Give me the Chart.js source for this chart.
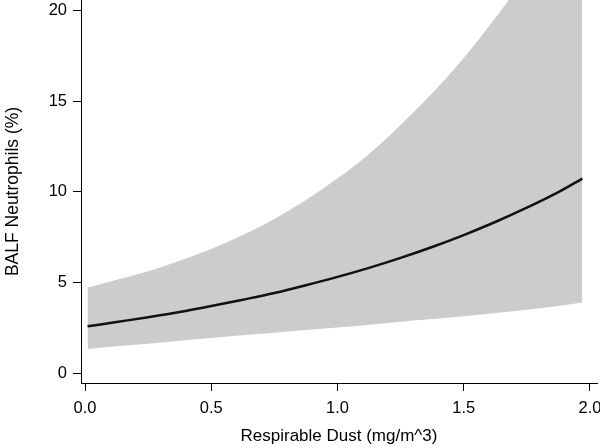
<!DOCTYPE html>
<html>
<head>
<meta charset="utf-8">
<script src="https://cdn.jsdelivr.net/npm/chart.js@4.4.1/dist/chart.umd.min.js"></script>
<style>
  html, body { margin: 0; padding: 0; background: #fff; }
  #wrap { width: 600px; height: 448px; }
</style>
</head>
<body>
<div id="wrap"><canvas id="chart" width="600" height="448"></canvas></div>
<script>
// respirable dust (mg/m^3) and fitted BALF neutrophils (%) with confidence band
const dustX     = [0.01, 0.125, 0.25, 0.375, 0.5, 0.625, 0.75, 0.875, 1.0, 1.125, 1.25, 1.375, 1.5, 1.625, 1.75, 1.875, 1.97];
const meanPct   = [2.58, 2.82, 3.08, 3.37, 3.70, 4.05, 4.42, 4.85, 5.31, 5.81, 6.36, 6.96, 7.62, 8.34, 9.13, 9.99, 10.74];
const lowerPct  = [1.33, 1.48, 1.62, 1.78, 1.93, 2.08, 2.23, 2.38, 2.52, 2.67, 2.83, 2.98, 3.14, 3.32, 3.50, 3.70, 3.89];
const upperPct  = [4.72, 5.15, 5.62, 6.20, 6.85, 7.62, 8.50, 9.55, 10.75, 12.1, 13.7, 15.45, 17.4, 19.6, 22.0, 24.5, 27.0];
const xTicks = [0, 0.5, 1.0, 1.5, 2.0];
const yTicks = [0, 5, 10, 15, 20];

function toPoints(ys) {
    let pts = [];
    for (let i = 0; i < dustX.length; i++) {
        pts.push({ x: dustX[i], y: ys[i] });
    }
    return pts;
}

function createChart() {
    const font = "'Liberation Sans', Arial, Helvetica, sans-serif";
    const config = {
        type: 'line',
        data: {
            datasets: [{
                label: 'fit',
                data: toPoints(meanPct),
                borderColor: '#111111',
                borderWidth: 2.5,
                pointRadius: 0,
                fill: false,
                cubicInterpolationMode: 'monotone',
                order: 0
            }, {
                label: 'upper',
                data: toPoints(upperPct),
                borderWidth: 0,
                borderColor: 'rgba(0,0,0,0)',
                backgroundColor: '#cccccc',
                pointRadius: 0,
                fill: '+1',
                cubicInterpolationMode: 'monotone',
                order: 1
            }, {
                label: 'lower',
                data: toPoints(lowerPct),
                borderWidth: 0,
                borderColor: 'rgba(0,0,0,0)',
                pointRadius: 0,
                fill: false,
                cubicInterpolationMode: 'monotone',
                order: 2
            }]
        },
        options: {
            responsive: false,
            animation: false,
            layout: { padding: { left: 0, right: 3, top: 0, bottom: 0 } },
            plugins: {
                legend: { display: false },
                tooltip: { enabled: false }
            },
            scales: {
                x: {
                    type: 'linear',
                    min: -0.016,
                    max: 2.028,
                    afterBuildTicks: (s) => { s.ticks = xTicks.map(v => ({ value: v })); },
                    afterFit: (s) => { s.height = 65; s.paddingLeft = 0; s.paddingRight = 0; },
                    border: { display: true, color: '#000', width: 1 },
                    grid: { drawOnChartArea: false, drawTicks: true, tickLength: 8, tickColor: '#000', tickWidth: 1 },
                    ticks: {
                        color: '#000',
                        padding: 8,
                        maxRotation: 0,
                        autoSkip: false,
                        font: { family: font, size: 16.5 },
                        callback: (v) => Number(v).toFixed(1)
                    },
                    title: {
                        display: true,
                        text: 'Respirable Dust (mg/m^3)',
                        color: '#000',
                        padding: { top: 0, bottom: 1 },
                        font: { family: font, size: 17 }
                    }
                },
                y: {
                    type: 'linear',
                    min: -0.55,
                    max: 20.6,
                    afterBuildTicks: (s) => { s.ticks = yTicks.map(v => ({ value: v })); },
                    afterFit: (s) => { s.width = 81; s.paddingTop = 0; s.paddingBottom = 0; },
                    border: { display: true, color: '#000', width: 1 },
                    grid: { drawOnChartArea: false, drawTicks: true, tickLength: 8, tickColor: '#000', tickWidth: 1 },
                    ticks: {
                        color: '#000',
                        padding: 6,
                        autoSkip: false,
                        font: { family: font, size: 16.5 }
                    },
                    title: {
                        display: true,
                        text: 'BALF Neutrophils (%)',
                        color: '#000',
                        padding: { top: 3, bottom: 0 },
                        font: { family: font, size: 17.5 }
                    }
                }
            }
        }
    };
    let canvas = document.getElementById('chart');
    let ctx = canvas.getContext("2d");
    new Chart(ctx, config);
}

document.addEventListener("DOMContentLoaded", () => {
    createChart();
});
</script>
</body>
</html>
